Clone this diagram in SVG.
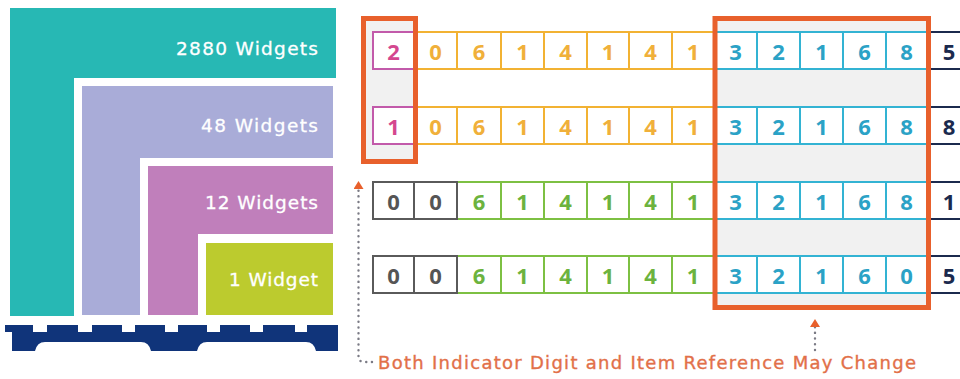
<svg xmlns="http://www.w3.org/2000/svg" width="960" height="379" viewBox="0 0 960 379">
<defs>
<style>
.lbl{font-family:"DejaVu Sans","Liberation Sans",sans-serif;font-size:18.5px;fill:#ffffff;stroke:#ffffff;stroke-width:0.3;text-anchor:end}
.dg{font-family:"Open Sans","Liberation Sans",sans-serif;font-size:22px;font-weight:700;text-anchor:middle}
.c{fill:#ffffff;stroke-width:2}
.pk{stroke:#c25aaa}.pkt{fill:#d4478f}
.or{stroke:#f2b233}.ort{fill:#f0b03a}
.cy{stroke:#33b3d3}.cyt{fill:#2ba2c6}
.gn{stroke:#7dc043}.gnt{fill:#6cb33e}
.gy{stroke:#5a5a5a}.gyt{fill:#555555}
.nv{stroke:#1b2a4e}.nvt{fill:#1b2a4e}
.hl{fill:none;stroke:#e8602c;stroke-width:5}
.hlbg{fill:#f1f1f1}
.dot{fill:none;stroke:#7b7b85;stroke-width:2.4;stroke-linecap:round;stroke-dasharray:0.1 5.6}
.cap{font-family:"DejaVu Sans","Liberation Sans",sans-serif;font-size:18px;fill:#e27049;stroke:#e27049;stroke-width:0.35}
</style>
<marker id="tri" viewBox="0 0 8 10" refX="0" refY="5" markerWidth="8" markerHeight="10" markerUnits="userSpaceOnUse" orient="auto">
<path d="M0,0 L8,5 L0,10 Z" fill="#e8602c"/>
</marker>
</defs>
<rect width="960" height="379" fill="#ffffff"/>

<g id="stack-2880">
<path d="M10,8 H336 V78 H74 V316 H10 Z" fill="#27b8b4"/>
<text class="lbl" x="318" y="55" textLength="142">2880 Widgets</text>
</g>
<g id="stack-48">
<path d="M82,86 H333 V158 H140 V315 H82 Z" fill="#a9acd8"/>
<text class="lbl" x="318" y="132" textLength="117">48 Widgets</text>
</g>
<g id="stack-12">
<path d="M148,166 H333 V234 H198 V315 H148 Z" fill="#c07fbb"/>
<text class="lbl" x="318" y="209" textLength="113">12 Widgets</text>
</g>
<g id="stack-1">
<rect x="206" y="243" width="127" height="72" fill="#bccb2e"/>
<text class="lbl" x="318" y="286" textLength="89">1 Widget</text>
</g>
<g id="pallet">
<path d="M5,325 H33 V332 H47 V325 H78 V332 H92 V325 H122 V332 H135 V325 H165 V332 H178 V325 H207 V332 H220 V325 H250 V332 H263 V325 H295 V332 H307 V325 H338 V351 H316 Q314,342 306,342 H207 Q199,342 197,351 H151 Q149,342 141,342 H45 Q37,342 35,351 H12 V332 H5 Z" fill="#10347a"/>
</g>

<g id="highlight-backgrounds">
<rect class="hlbg" x="363.5" y="18.5" width="52" height="143"/>
<rect class="hlbg" x="715" y="18.5" width="213.5" height="289"/>
</g>

<g id="row1">
<rect class="c or" x="414" y="32" width="43" height="37"/>
<rect class="c or" x="457" y="32" width="44" height="37"/>
<rect class="c or" x="501" y="32" width="43" height="37"/>
<rect class="c or" x="544" y="32" width="43" height="37"/>
<rect class="c or" x="587" y="32" width="42" height="37"/>
<rect class="c or" x="629" y="32" width="43" height="37"/>
<rect class="c or" x="672" y="32" width="42" height="37"/>
<rect class="c pk" x="373" y="32" width="41" height="37"/>
<rect class="c cy" x="714" y="32" width="43" height="37"/>
<rect class="c cy" x="757" y="32" width="43" height="37"/>
<rect class="c cy" x="800" y="32" width="43" height="37"/>
<rect class="c cy" x="843" y="32" width="43" height="37"/>
<rect class="c cy" x="886" y="32" width="41" height="37"/>
<rect class="c nv" x="927" y="32" width="60" height="37"/>
<text class="dg pkt" x="393.5" y="60">2</text>
<text class="dg ort" x="435.5" y="60">0</text>
<text class="dg ort" x="479" y="60">6</text>
<text class="dg ort" x="522.5" y="60">1</text>
<text class="dg ort" x="565.5" y="60">4</text>
<text class="dg ort" x="608" y="60">1</text>
<text class="dg ort" x="650.5" y="60">4</text>
<text class="dg ort" x="693" y="60">1</text>
<text class="dg cyt" x="735.5" y="60">3</text>
<text class="dg cyt" x="778.5" y="60">2</text>
<text class="dg cyt" x="821.5" y="60">1</text>
<text class="dg cyt" x="864.5" y="60">6</text>
<text class="dg cyt" x="906.5" y="60">8</text>
<text class="dg nvt" x="949" y="60">5</text>
</g>

<g id="row2">
<rect class="c or" x="414" y="107" width="43" height="37"/>
<rect class="c or" x="457" y="107" width="44" height="37"/>
<rect class="c or" x="501" y="107" width="43" height="37"/>
<rect class="c or" x="544" y="107" width="43" height="37"/>
<rect class="c or" x="587" y="107" width="42" height="37"/>
<rect class="c or" x="629" y="107" width="43" height="37"/>
<rect class="c or" x="672" y="107" width="42" height="37"/>
<rect class="c pk" x="373" y="107" width="41" height="37"/>
<rect class="c cy" x="714" y="107" width="43" height="37"/>
<rect class="c cy" x="757" y="107" width="43" height="37"/>
<rect class="c cy" x="800" y="107" width="43" height="37"/>
<rect class="c cy" x="843" y="107" width="43" height="37"/>
<rect class="c cy" x="886" y="107" width="41" height="37"/>
<rect class="c nv" x="927" y="107" width="60" height="37"/>
<text class="dg pkt" x="393.5" y="135">1</text>
<text class="dg ort" x="435.5" y="135">0</text>
<text class="dg ort" x="479" y="135">6</text>
<text class="dg ort" x="522.5" y="135">1</text>
<text class="dg ort" x="565.5" y="135">4</text>
<text class="dg ort" x="608" y="135">1</text>
<text class="dg ort" x="650.5" y="135">4</text>
<text class="dg ort" x="693" y="135">1</text>
<text class="dg cyt" x="735.5" y="135">3</text>
<text class="dg cyt" x="778.5" y="135">2</text>
<text class="dg cyt" x="821.5" y="135">1</text>
<text class="dg cyt" x="864.5" y="135">6</text>
<text class="dg cyt" x="906.5" y="135">8</text>
<text class="dg nvt" x="949" y="135">8</text>
</g>

<g id="row3">
<rect class="c gn" x="457" y="182" width="44" height="37"/>
<rect class="c gn" x="501" y="182" width="43" height="37"/>
<rect class="c gn" x="544" y="182" width="43" height="37"/>
<rect class="c gn" x="587" y="182" width="42" height="37"/>
<rect class="c gn" x="629" y="182" width="43" height="37"/>
<rect class="c gn" x="672" y="182" width="42" height="37"/>
<rect class="c gy" x="373" y="182" width="41" height="37"/>
<rect class="c gy" x="414" y="182" width="43" height="37"/>
<rect class="c cy" x="714" y="182" width="43" height="37"/>
<rect class="c cy" x="757" y="182" width="43" height="37"/>
<rect class="c cy" x="800" y="182" width="43" height="37"/>
<rect class="c cy" x="843" y="182" width="43" height="37"/>
<rect class="c cy" x="886" y="182" width="41" height="37"/>
<rect class="c nv" x="927" y="182" width="60" height="37"/>
<text class="dg gyt" x="393.5" y="210">0</text>
<text class="dg gyt" x="435.5" y="210">0</text>
<text class="dg gnt" x="479" y="210">6</text>
<text class="dg gnt" x="522.5" y="210">1</text>
<text class="dg gnt" x="565.5" y="210">4</text>
<text class="dg gnt" x="608" y="210">1</text>
<text class="dg gnt" x="650.5" y="210">4</text>
<text class="dg gnt" x="693" y="210">1</text>
<text class="dg cyt" x="735.5" y="210">3</text>
<text class="dg cyt" x="778.5" y="210">2</text>
<text class="dg cyt" x="821.5" y="210">1</text>
<text class="dg cyt" x="864.5" y="210">6</text>
<text class="dg cyt" x="906.5" y="210">8</text>
<text class="dg nvt" x="949" y="210">1</text>
</g>

<g id="row4">
<rect class="c gn" x="457" y="256" width="44" height="37"/>
<rect class="c gn" x="501" y="256" width="43" height="37"/>
<rect class="c gn" x="544" y="256" width="43" height="37"/>
<rect class="c gn" x="587" y="256" width="42" height="37"/>
<rect class="c gn" x="629" y="256" width="43" height="37"/>
<rect class="c gn" x="672" y="256" width="42" height="37"/>
<rect class="c gy" x="373" y="256" width="41" height="37"/>
<rect class="c gy" x="414" y="256" width="43" height="37"/>
<rect class="c cy" x="714" y="256" width="43" height="37"/>
<rect class="c cy" x="757" y="256" width="43" height="37"/>
<rect class="c cy" x="800" y="256" width="43" height="37"/>
<rect class="c cy" x="843" y="256" width="43" height="37"/>
<rect class="c cy" x="886" y="256" width="41" height="37"/>
<rect class="c nv" x="927" y="256" width="60" height="37"/>
<text class="dg gyt" x="393.5" y="284">0</text>
<text class="dg gyt" x="435.5" y="284">0</text>
<text class="dg gnt" x="479" y="284">6</text>
<text class="dg gnt" x="522.5" y="284">1</text>
<text class="dg gnt" x="565.5" y="284">4</text>
<text class="dg gnt" x="608" y="284">1</text>
<text class="dg gnt" x="650.5" y="284">4</text>
<text class="dg gnt" x="693" y="284">1</text>
<text class="dg cyt" x="735.5" y="284">3</text>
<text class="dg cyt" x="778.5" y="284">2</text>
<text class="dg cyt" x="821.5" y="284">1</text>
<text class="dg cyt" x="864.5" y="284">6</text>
<text class="dg cyt" x="906.5" y="284">0</text>
<text class="dg nvt" x="949" y="284">5</text>
</g>

<g id="highlight-indicator">
<rect class="hl" x="363.5" y="18.5" width="52" height="143"/>
</g>
<g id="highlight-item-ref">
<rect class="hl" x="715" y="18.5" width="213.5" height="289"/>
</g>

<g id="connectors">
<path class="dot" d="M372,362 H364 Q358.5,362 358.5,356 V189" marker-end="url(#tri)"/>
<path class="dot" d="M815,350 V327" marker-end="url(#tri)"/>
</g>

<g id="caption">
<text class="cap" x="378" y="369" textLength="538">Both Indicator Digit and Item Reference May Change</text>
</g>
</svg>
